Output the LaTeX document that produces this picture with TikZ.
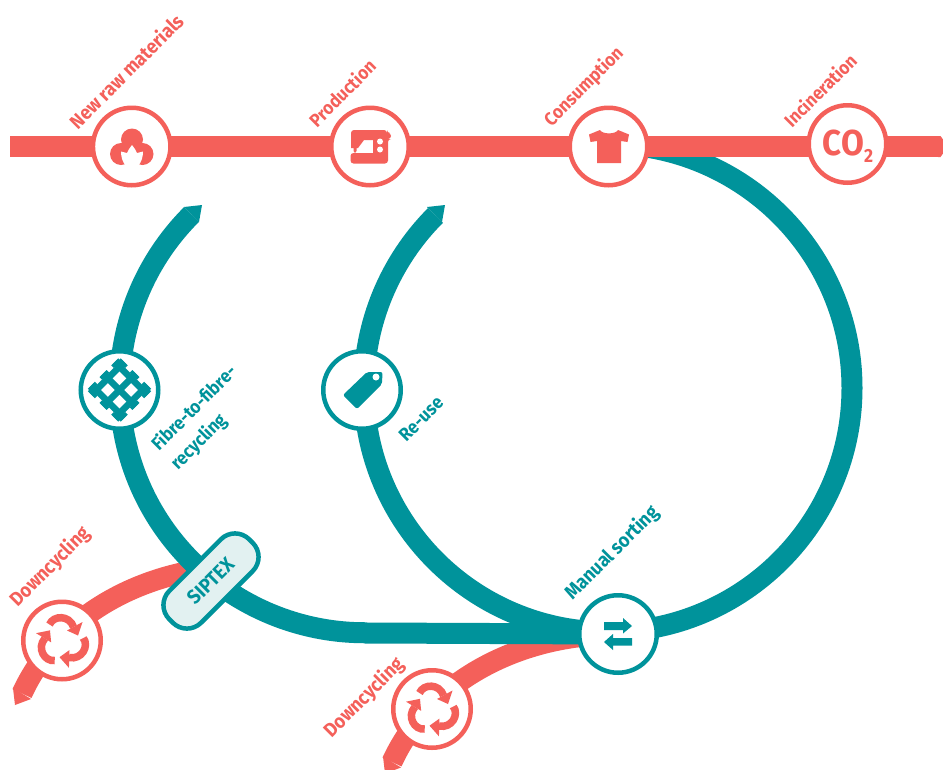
\documentclass[tikz,border=0pt]{standalone}
\usepackage{fontspec}
\setmainfont{Fira Sans}[FakeStretch=0.92]
\definecolor{cred}{HTML}{F4605A}
\definecolor{cteal}{HTML}{00939B}
\definecolor{cpale}{HTML}{E2F1F1}
\newcommand{\recyc}[2]{%
  \foreach \a in {0,-120,-240}{
    \begin{scope}[shift={(#1,#2)},rotate=\a]
      \draw[cred,line width=7.5pt] (-13,-16.5) .. controls (-9,-26) and (7,-26) .. (11,-14);
      \fill[cred] (15.5,-5.5) -- (20,-19) -- (4.5,-10.5) -- cycle;
    \end{scope}}}
\tikzset{
  ringred/.style={circle,draw=cred,fill=white,line width=4.5pt,minimum size=77.5pt,inner sep=0pt},
  ringteal/.style={circle,draw=cteal,fill=white,line width=4.5pt,minimum size=77.5pt,inner sep=0pt},
  redline/.style={draw=cred,line width=21pt},
  tealline/.style={draw=cteal,line width=21pt},
  lab/.style={rotate=45,inner sep=0pt,font=\fontsize{18.5}{27}\selectfont\bfseries,align=left},
  labred/.style={lab,text=cred},
  labteal/.style={lab,text=cteal},
  labwide/.style={font=\fontsize{19.6}{27}\selectfont\bfseries},
}
\begin{document}
\begin{tikzpicture}[x=1pt,y=-1pt]
\useasboundingbox (0,0) rectangle (943,769);
\clip (0,0) rectangle (943,769);
\fill[white] (0,0) rectangle (943,769);
% named ends
\coordinate (redstart) at (10,146.5);
\coordinate (redend) at (938,146.5);
\coordinate (bigtop) at (608,144);
\coordinate (smalltip) at (191.5,214.5);
\coordinate (lowstart) at (366,633);
\coordinate (sortc) at (618,634);
% red downcycling branches (below teal)
\draw[redline] (215,567.5) .. controls (130,576.5) and (55,621.5) .. (22,693.5);
\fill[cred] (13,688) -- (15,705) -- (31,699) -- cycle;
\draw[redline] (585,636) .. controls (500,645) and (425,690) .. (392,762);
\fill[cred] (383,756.5) -- (385,773.5) -- (401,767.5) -- cycle;
% teal loops
\draw[tealline] (bigtop) arc[start angle=270,end angle=585,radius=244];
\fill[cteal] (427,207) -- (445,205) -- (442,222) -- cycle;
\draw[tealline] (smalltip) arc[start angle=225,end angle=90,radius=245] -- (lowstart) -- (sortc);
\fill[cteal] (184,207) -- (202,205) -- (199,222) -- cycle;
% main red line
\draw[redline] (redstart) -- (redend);
\fill[cred] (938,136) -- (940.5,136) -- (943,139.5) -- (943,153.5) -- (940.5,157) -- (938,157) -- cycle;
% rings
\node[ringred] (raw) at (131.7,146.5) {};
\node[ringred] (prod) at (370,146.5) {};
\node[ringred] (cons) at (608.5,146.5) {};
\node[ringred] (inc) at (847.5,144) {};
\node[ringteal] (fibre) at (119.5,390) {};
\node[ringteal] (reuse) at (362,390) {};
\node[ringteal] (sort) at (618,634) {};
\node[ringred] (down1) at (62,640.5) {};
\node[ringred] (down2) at (432,709) {};
\node[rotate=45,draw=cteal,fill=cpale,line width=4.5pt,rounded corners=20pt,minimum width=113pt,minimum height=45pt,inner sep=0pt,text=cteal,font=\fontsize{20}{24}\selectfont\bfseries] (siptex) at (211,581) {SIPTEX};
% cotton icon
\fill[cred] (132,139.5) circle[radius=11] (121,154) circle[radius=11] (142.5,154) circle[radius=11];
\fill[cred] (121,145) rectangle (143,160);
\fill[white] (132,145) .. controls (134,148) and (136,150) .. (137,153)
  .. controls (139,152.5) and (141,152) .. (143,151.5)
  .. controls (143,157) and (141.5,162) .. (138,166) -- (126,166)
  .. controls (122.5,162) and (121,157) .. (121,151.5)
  .. controls (123,152) and (125,152.5) .. (127,153)
  .. controls (128,150) and (130,148) .. (132,145) -- cycle;
% sewing machine icon
\fill[cred,rounded corners=3pt] (351,148) -- (351,130) -- (387,130) -- (387,133) -- (391,133) -- (391,139) -- (388,139) -- (388,163.5) -- (350.5,163.5) -- (350.5,153) [sharp corners] -- (373,153) -- (373,140) -- (364,140) -- (358,148) -- (356.5,148) -- (356.5,151) -- (355,153) -- (353.5,151) -- (353.5,148) -- cycle;
\fill[white] (380,141.5) circle[radius=3] (380,149.5) circle[radius=3];
% t-shirt icon
\fill[cred] (600,130) .. controls (602,134.5) and (616,134.5) .. (618,130) -- (629,134.5) -- (627.5,142) -- (621,141) -- (621,163) -- (597,163) -- (597,141) -- (590.5,142) -- (589,134.5) -- cycle;
% CO2
\node[text=cred,inner sep=0pt,font=\fontsize{36}{36}\selectfont\bfseries] (co2) at (848,146) {CO\raisebox{-7pt}{\fontsize{19}{19}\selectfont 2}};
% mesh icon
\begin{scope}[shift={(119.5,390)},rotate=45]
  \foreach \u in {-16.5,0,16.5}{
    \draw[cteal,line width=6.5pt] (\u,-23) -- (\u,23);
    \draw[cteal,line width=6.5pt] (-23,\u) -- (23,\u);
    \draw[cteal,line width=3.5pt] (\u-5,-21.5) -- (\u+5,-21.5) (\u-5,21.5) -- (\u+5,21.5);
    \draw[cteal,line width=3.5pt] (-21.5,\u-5) -- (-21.5,\u+5) (21.5,\u-5) -- (21.5,\u+5);
  }
\end{scope}
% tag icon
\fill[cteal,rounded corners=2pt] (343,395) -- (357,409) -- (382,384) -- (382.5,372) -- (367,372) -- cycle;
\fill[white] (376,377) circle[radius=3.5];
% arrows icon
\fill[cteal] (604,622) -- (623,622) -- (623,618) -- (632,626) -- (623,633.5) -- (623,630) -- (604,630) -- cycle;
\fill[cteal] (632,638) -- (613,638) -- (613,634) -- (604,642) -- (613,650) -- (613,645.5) -- (632,645.5) -- cycle;
% recycle icons
\recyc{62.5}{641}
\recyc{432.5}{709.5}
% labels
\node[labred,labwide] (l1) at (126,71) {New raw materials};
\node[labred] (l2) at (342,93) {Production};
\node[labred] (l3) at (584,87) {Consumption};
\node[labred] (l4) at (820,90) {Incineration};
\node[labteal] (l5) at (204,418) {Fibre-to-fibre-\\recycling};
\node[labteal] (l6) at (421,419) {Re-use};
\node[labteal,labwide] (l7) at (612,553) {Manual sorting};
\node[labred,labwide] (l8) at (50,567) {Downcycling};
\node[labred,labwide] (l9) at (364,698) {Downcycling};
\end{tikzpicture}
\end{document}
